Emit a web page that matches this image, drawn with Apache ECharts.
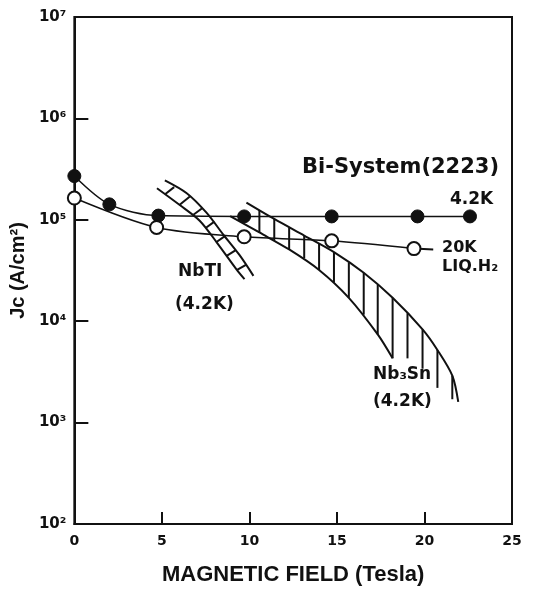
<!DOCTYPE html>
<html>
<head>
<meta charset="utf-8">
<script src="https://cdn.jsdelivr.net/npm/echarts@6/dist/echarts.min.js"></script>
<style>
  html, body { margin: 0; padding: 0; background: #fff; }
  #chart { width: 535px; height: 591px; }
</style>
</head>
<body>
<div id="chart"></div>
<script>
// Bi-System(2223) measured points [field T, Jc A/cm2]
var bi42K = [[0, 2.7e5], [2, 1.42e5], [4.8, 1.1e5], [9.7, 1.08e5], [14.7, 1.08e5], [19.6, 1.08e5], [22.6, 1.08e5]];
var bi20K = [[0, 1.64e5], [4.7, 8.4e4], [9.7, 6.8e4], [14.7, 6.2e4], [19.4, 5.2e4]];
var bi20KTail = [[19.4, 5.2e4], [20.5, 5.1e4]];

// NbTi band edges
var nbtiLeft = [[4.72, 2.05e5], [6.02, 1.4e5], [7.16, 9.8e4], [8.13, 6.0e4], [9.26, 3.25e4], [9.72, 2.6e4]];
var nbtiRight = [[5.17, 2.45e5], [6.42, 1.83e5], [7.56, 1.17e5], [8.52, 7.1e4], [9.43, 4.5e4], [10.23, 2.8e4]];
// NbTi hatch strokes [x1, y1, x2, y2]
var nbtiHatch = [
    [5.2, 1.8e5, 5.7, 2.1e5],
    [6.0, 1.4e5, 6.6, 1.7e5],
    [6.8, 1.12e5, 7.3, 1.3e5],
    [7.5, 8.3e4, 8.0, 9.6e4],
    [8.1, 6.0e4, 8.6, 6.9e4],
    [8.7, 4.4e4, 9.2, 5.0e4],
    [9.3, 3.2e4, 9.8, 3.6e4]
];

// Nb3Sn band edges
var nb3snOuter = [[9.83, 1.48e5], [11.42, 1.02e5], [13.13, 7.0e4], [14.83, 4.8e4], [16.53, 3.0e4],
    [18.18, 1.7e4], [19.89, 8.3e3], [20.74, 5.2e3], [21.59, 2.9e3], [21.93, 1.6e3]];
var nb3snInner = [[8.9, 1.09e5], [10.57, 7.5e4], [12.27, 5.1e4], [13.98, 3.2e4], [15.68, 1.7e4],
    [17.33, 7.4e3], [18.18, 4.3e3]];
// Nb3Sn vertical hatch strokes [x, top, bottom]
var nb3snHatch = [
    [10.57, 1.25e5, 7.5e4], [11.42, 1.02e5, 6.2e4], [12.27, 8.4e4, 5.1e4], [13.13, 7.0e4, 4.2e4],
    [13.98, 5.8e4, 3.2e4], [14.83, 4.8e4, 2.4e4], [15.68, 3.8e4, 1.7e4], [16.53, 3.0e4, 1.16e4],
    [17.33, 2.3e4, 7.4e3], [18.18, 1.7e4, 4.3e3], [19.03, 1.2e4, 4.3e3], [19.89, 8.3e3, 3.4e3],
    [20.74, 5.2e3, 2.2e3], [21.59, 2.9e3, 1.7e3]
];

var supDigits = {2: '²', 3: '³', 4: '⁴', 5: '⁵', 6: '⁶', 7: '⁷'};

var ink = '#111';

function edgeLine(data) {
    return {
        type: 'line',
        data: data,
        smooth: 0.3,
        symbol: 'none',
        lineStyle: { color: ink, width: 2 },
        z: 3
    };
}

var myChart = echarts.init(document.getElementById('chart'));
var option = {
    backgroundColor: '#fff',
    animation: false,
    grid: {
        left: 70, right: 23, top: 17, bottom: 61,
        show: true, borderColor: ink, borderWidth: 2
    },
    xAxis: {
        type: 'value',
        min: 0, max: 25, interval: 5,
        name: 'MAGNETIC FIELD (Tesla)',
        nameLocation: 'middle',
        nameGap: 40,
        nameTextStyle: { fontFamily: 'Liberation Sans', fontWeight: 'bold', fontSize: 22, color: ink },
        axisLine: { lineStyle: { color: ink, width: 2 } },
        axisTick: { inside: true, length: 12, lineStyle: { color: ink, width: 2 } },
        axisLabel: { fontFamily: 'DejaVu Sans', fontWeight: 'bold', fontSize: 14, color: ink, margin: 10 },
        splitLine: { show: false }
    },
    yAxis: {
        type: 'log',
        logBase: 10,
        min: 100, max: 1e7,
        name: 'Jc (A/cm²)',
        nameLocation: 'middle',
        nameRotate: 90,
        nameGap: 42,
        nameTextStyle: { fontFamily: 'Liberation Sans', fontWeight: 'bold', fontSize: 20, color: ink },
        axisLine: { lineStyle: { color: ink, width: 2 } },
        axisTick: { inside: true, length: 14, lineStyle: { color: ink, width: 2 } },
        axisLabel: {
            fontFamily: 'DejaVu Sans', fontWeight: 'bold', fontSize: 15, color: ink, margin: 8,
            formatter: function (v) {
                return '10' + supDigits[Math.round(Math.log10(v))];
            }
        },
        splitLine: { show: false }
    },
    series: [
        edgeLine(nbtiLeft),
        edgeLine(nbtiRight),
        edgeLine(nb3snOuter),
        edgeLine(nb3snInner),
        {
            type: 'custom',
            data: nbtiHatch,
            encode: { x: [0, 2], y: [1, 3] },
            renderItem: function (params, api) {
                var a = api.coord([api.value(0), api.value(1)]);
                var b = api.coord([api.value(2), api.value(3)]);
                return {
                    type: 'line',
                    shape: { x1: a[0], y1: a[1], x2: b[0], y2: b[1] },
                    style: { stroke: ink, lineWidth: 2 }
                };
            },
            z: 3
        },
        {
            type: 'custom',
            data: nb3snHatch,
            encode: { x: 0, y: [1, 2] },
            renderItem: function (params, api) {
                var a = api.coord([api.value(0), api.value(1)]);
                var b = api.coord([api.value(0), api.value(2)]);
                return {
                    type: 'line',
                    shape: { x1: a[0], y1: a[1], x2: b[0], y2: b[1] },
                    style: { stroke: ink, lineWidth: 2 }
                };
            },
            z: 3
        },
        {
            name: '4.2K',
            type: 'line',
            data: bi42K,
            smooth: 0.3,
            symbol: 'circle',
            symbolSize: 13,
            itemStyle: { color: ink, borderColor: ink, borderWidth: 1 },
            lineStyle: { color: ink, width: 1.5 },
            z: 5
        },
        {
            name: '20K',
            type: 'line',
            data: bi20K,
            smooth: 0.3,
            symbol: 'circle',
            symbolSize: 13,
            itemStyle: { color: '#fff', borderColor: ink, borderWidth: 2 },
            lineStyle: { color: ink, width: 1.5 },
            z: 5
        },
        {
            type: 'line',
            data: bi20KTail,
            symbol: 'none',
            lineStyle: { color: ink, width: 2 },
            z: 4
        }
    ],
    graphic: [
        { type: 'text', left: 302, top: 157, style: { text: 'Bi-System(2223)', font: 'bold 21px "DejaVu Sans"', fill: ink } },
        { type: 'text', left: 450, top: 191, style: { text: '4.2K', font: 'bold 17px "DejaVu Sans"', fill: ink } },
        { type: 'text', left: 442, top: 240, style: { text: '20K', font: 'bold 16px "DejaVu Sans"', fill: ink } },
        { type: 'text', left: 442, top: 259, style: { text: 'LIQ.H₂', font: 'bold 16px "DejaVu Sans"', fill: ink } },
        { type: 'text', left: 178, top: 263, style: { text: 'NbTI', font: 'bold 17px "DejaVu Sans"', fill: ink } },
        { type: 'text', left: 175, top: 296, style: { text: '(4.2K)', font: 'bold 17px "DejaVu Sans"', fill: ink } },
        { type: 'text', left: 373, top: 366, style: { text: 'Nb₃Sn', font: 'bold 17px "DejaVu Sans"', fill: ink } },
        { type: 'text', left: 373, top: 393, style: { text: '(4.2K)', font: 'bold 17px "DejaVu Sans"', fill: ink } }
    ]
};
myChart.setOption(option);
</script>
</body>
</html>
